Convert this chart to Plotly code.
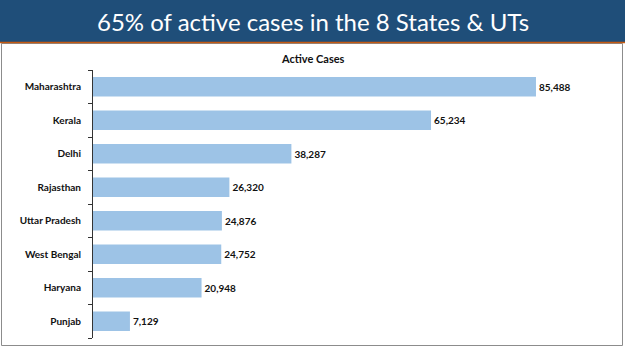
import plotly.graph_objects as go

states = ["Maharashtra", "Kerala", "Delhi", "Rajasthan", "Uttar Pradesh",
          "West Bengal", "Haryana", "Punjab"]
active_cases = [85488, 65234, 38287, 26320, 24876, 24752, 20948, 7129]
labels = [f"{v:,}" for v in active_cases]

W, H = 625, 351
fig = go.Figure(go.Bar(
    y=states, x=active_cases, orientation="h",
    marker=dict(color="#9dc3e6", line=dict(width=0)),
    width=0.58,
    text=labels, textposition="outside",
    texttemplate="<b>%{text}</b>",
    textfont=dict(family="Lato", size=10, color="#111111"),
    cliponaxis=False,
))

fig.update_layout(
    width=W, height=H,
    margin=dict(l=93, r=19, t=70, b=13),
    paper_bgcolor="white", plot_bgcolor="white",
    showlegend=False,
    xaxis=dict(range=[0, 99000], visible=False, fixedrange=True),
    yaxis=dict(autorange="reversed", showline=True, linecolor="#333333",
               linewidth=1, ticks="outside", ticklen=4, tickcolor="#333333",
               tickson="boundaries", showgrid=False,
               tickmode="array", tickvals=states,
               ticktext=[f"<b>{s}</b>" for s in states],
               ticklabelstandoff=9,
               tickfont=dict(family="Lato", size=10, color="#111111")),
    font=dict(family="Lato"),
    shapes=[
        dict(type="rect", xref="paper", yref="paper", x0=-93/513, x1=(625-93)/513,
             y0=1 + (70-0)/268, y1=1 + (70-42)/268, fillcolor="#1f4e79",
             line=dict(width=0), layer="below"),
        dict(type="line", xref="paper", yref="paper", x0=-93/513, x1=(625-93)/513,
             y0=1 + (70-42.5)/268, y1=1 + (70-42.5)/268,
             line=dict(color="#c55a11", width=1.5)),
        dict(type="rect", xref="paper", yref="paper", x0=(1.5-93)/513, x1=(622.5-93)/513,
             y0=1 - (345.5-70)/268, y1=1 + (70-43.5)/268,
             line=dict(color="#8c8c8c", width=1), fillcolor="rgba(0,0,0,0)", layer="below"),
    ],
    annotations=[
        dict(text="65% of active cases in the 8 States &amp; UTs", xref="paper", yref="paper",
             x=(312.5-93)/513, y=1 + (70-21)/268, xanchor="center", yanchor="middle",
             showarrow=False, font=dict(family="Lato", size=24, color="white")),
        dict(text="<b>Active Cases</b>", xref="paper", yref="paper",
             x=(312.5-93)/513, y=1 + (70-58)/268, xanchor="center", yanchor="middle",
             showarrow=False, font=dict(family="Lato", size=11, color="#111111")),
    ],
)
fig.write_html("out.html")
